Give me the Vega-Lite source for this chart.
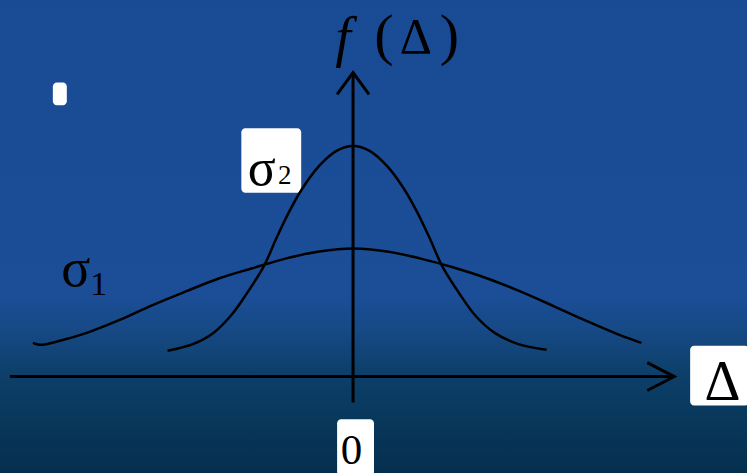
{
  "$schema": "https://vega.github.io/schema/vega-lite/v6.json",
  "width": 749,
  "height": 476,
  "autosize": {"type": "fit", "contains": "padding"},
  "padding": 0,
  "config": {"view": {"stroke": null}},
  "layer": [
    {
      "data": {"values": [{"x0": -3.54, "x1": 3.95, "y0": -0.97, "y1": 3.79}]},
      "mark": {
        "type": "rect",
        "fill": {
          "gradient": "linear", "x1": 0, "y1": 0, "x2": 0, "y2": 1,
          "stops": [
            {"offset": 0, "color": "#194b95"},
            {"offset": 0.62, "color": "#1b4e97"},
            {"offset": 0.7, "color": "#164984"},
            {"offset": 0.78, "color": "#0e406c"},
            {"offset": 0.88, "color": "#08385c"},
            {"offset": 1, "color": "#052f4e"}
          ]
        }
      },
      "encoding": {
        "x": {"field": "x0", "type": "quantitative", "scale": {"domain": [-3.54, 3.95], "nice": false, "zero": false}, "axis": null},
        "x2": {"field": "x1"},
        "y": {"field": "y0", "type": "quantitative", "scale": {"domain": [-0.97, 3.79], "nice": false, "zero": false}, "axis": null},
        "y2": {"field": "y1"}
      }
    },
    {
      "data": {"values": [
        {"box": "sigma2", "x0": -1.12, "x1": -0.52, "y0": 1.85, "y1": 2.5},
        {"box": "delta", "x0": 3.38, "x1": 3.97, "y0": -0.29, "y1": 0.31},
        {"box": "zero", "x0": -0.16, "x1": 0.21, "y0": -1.0, "y1": -0.43},
        {"box": "bullet", "x0": -3.01, "x1": -2.87, "y0": 2.73, "y1": 2.96}
      ]},
      "mark": {"type": "rect", "fill": "white", "cornerRadius": 4},
      "encoding": {
        "x": {"field": "x0", "type": "quantitative"},
        "x2": {"field": "x1"},
        "y": {"field": "y0", "type": "quantitative"},
        "y2": {"field": "y1"}
      }
    },
    {
      "data": {"values": [
        {"axis": "delta", "x0": -3.44, "x1": 3.2, "y0": 0, "y1": 0},
        {"axis": "f", "x0": 0, "x1": 0, "y0": -0.26, "y1": 3.04}
      ]},
      "mark": {"type": "rule", "color": "black", "strokeWidth": 3},
      "encoding": {
        "x": {"field": "x0", "type": "quantitative"},
        "x2": {"field": "x1"},
        "y": {"field": "y0", "type": "quantitative"},
        "y2": {"field": "y1"}
      }
    },
    {
      "data": {"values": [
        {"head": "up", "i": 0, "x": -0.16, "y": 2.84},
        {"head": "up", "i": 1, "x": 0, "y": 3.06},
        {"head": "up", "i": 2, "x": 0.16, "y": 2.84},
        {"head": "right", "i": 0, "x": 2.95, "y": 0.14},
        {"head": "right", "i": 1, "x": 3.22, "y": 0},
        {"head": "right", "i": 2, "x": 2.95, "y": -0.14}
      ]},
      "mark": {"type": "line", "color": "black", "strokeWidth": 3, "strokeJoin": "miter"},
      "encoding": {
        "x": {"field": "x", "type": "quantitative"},
        "y": {"field": "y", "type": "quantitative"},
        "detail": {"field": "head"},
        "order": {"field": "i", "type": "quantitative"}
      }
    },
    {
      "data": {"values": [
        {"curve": "sigma2", "x": -1.86, "y": 0.26},
        {"curve": "sigma2", "x": -1.6, "y": 0.33},
        {"curve": "sigma2", "x": -1.4, "y": 0.44},
        {"curve": "sigma2", "x": -1.22, "y": 0.62},
        {"curve": "sigma2", "x": -1.07, "y": 0.83},
        {"curve": "sigma2", "x": -0.89, "y": 1.12},
        {"curve": "sigma2", "x": -0.77, "y": 1.39},
        {"curve": "sigma2", "x": -0.64, "y": 1.66},
        {"curve": "sigma2", "x": -0.51, "y": 1.89},
        {"curve": "sigma2", "x": -0.34, "y": 2.12},
        {"curve": "sigma2", "x": -0.17, "y": 2.27},
        {"curve": "sigma2", "x": 0, "y": 2.32},
        {"curve": "sigma2", "x": 0.17, "y": 2.27},
        {"curve": "sigma2", "x": 0.34, "y": 2.12},
        {"curve": "sigma2", "x": 0.51, "y": 1.89},
        {"curve": "sigma2", "x": 0.64, "y": 1.66},
        {"curve": "sigma2", "x": 0.77, "y": 1.39},
        {"curve": "sigma2", "x": 0.89, "y": 1.12},
        {"curve": "sigma2", "x": 1.07, "y": 0.83},
        {"curve": "sigma2", "x": 1.23, "y": 0.61},
        {"curve": "sigma2", "x": 1.42, "y": 0.44},
        {"curve": "sigma2", "x": 1.65, "y": 0.33},
        {"curve": "sigma2", "x": 1.94, "y": 0.27},
        {"curve": "sigma1", "x": -3.21, "y": 0.34},
        {"curve": "sigma1", "x": -3.14, "y": 0.32},
        {"curve": "sigma1", "x": -2.94, "y": 0.36},
        {"curve": "sigma1", "x": -2.67, "y": 0.44},
        {"curve": "sigma1", "x": -2.34, "y": 0.57},
        {"curve": "sigma1", "x": -2.01, "y": 0.72},
        {"curve": "sigma1", "x": -1.67, "y": 0.86},
        {"curve": "sigma1", "x": -1.34, "y": 0.99},
        {"curve": "sigma1", "x": -1.01, "y": 1.09},
        {"curve": "sigma1", "x": -0.67, "y": 1.19},
        {"curve": "sigma1", "x": -0.34, "y": 1.26},
        {"curve": "sigma1", "x": 0, "y": 1.29},
        {"curve": "sigma1", "x": 0.34, "y": 1.26},
        {"curve": "sigma1", "x": 0.67, "y": 1.19},
        {"curve": "sigma1", "x": 1.0, "y": 1.1},
        {"curve": "sigma1", "x": 1.34, "y": 0.99},
        {"curve": "sigma1", "x": 1.67, "y": 0.86},
        {"curve": "sigma1", "x": 2.01, "y": 0.71},
        {"curve": "sigma1", "x": 2.34, "y": 0.56},
        {"curve": "sigma1", "x": 2.67, "y": 0.42},
        {"curve": "sigma1", "x": 2.89, "y": 0.34}
      ]},
      "mark": {"type": "line", "color": "black", "strokeWidth": 2.5, "interpolate": "catmull-rom"},
      "encoding": {
        "x": {"field": "x", "type": "quantitative"},
        "y": {"field": "y", "type": "quantitative"},
        "detail": {"field": "curve"}
      }
    },
    {
      "data": {"values": [
        {"t": "σ", "x": -0.915, "y": 1.93}
      ]},
      "mark": {"type": "text", "font": "Liberation Serif", "fontSize": 52, "align": "center", "baseline": "alphabetic", "color": "black"},
      "encoding": {"x": {"field": "x", "type": "quantitative"}, "y": {"field": "y", "type": "quantitative"}, "text": {"field": "t"}}
    },
    {
      "data": {"values": [
        {"t": "2", "x": -0.685, "y": 1.94}
      ]},
      "mark": {"type": "text", "font": "Liberation Serif", "fontSize": 27, "align": "center", "baseline": "alphabetic", "color": "black"},
      "encoding": {"x": {"field": "x", "type": "quantitative"}, "y": {"field": "y", "type": "quantitative"}, "text": {"field": "t"}}
    },
    {
      "data": {"values": [
        {"t": "σ", "x": -2.78, "y": 0.91}
      ]},
      "mark": {"type": "text", "font": "Liberation Serif", "fontSize": 54, "align": "center", "baseline": "alphabetic", "color": "black"},
      "encoding": {"x": {"field": "x", "type": "quantitative"}, "y": {"field": "y", "type": "quantitative"}, "text": {"field": "t"}}
    },
    {
      "data": {"values": [
        {"t": "1", "x": -2.55, "y": 0.82}
      ]},
      "mark": {"type": "text", "font": "Liberation Serif", "fontSize": 34, "align": "center", "baseline": "alphabetic", "color": "black"},
      "encoding": {"x": {"field": "x", "type": "quantitative"}, "y": {"field": "y", "type": "quantitative"}, "text": {"field": "t"}}
    },
    {
      "data": {"values": [
        {"t": "f", "x": -0.1, "y": 3.23}
      ]},
      "mark": {"type": "text", "font": "Liberation Serif", "fontStyle": "italic", "fontSize": 56, "align": "center", "baseline": "alphabetic", "color": "black"},
      "encoding": {"x": {"field": "x", "type": "quantitative"}, "y": {"field": "y", "type": "quantitative"}, "text": {"field": "t"}}
    },
    {
      "data": {"values": [
        {"t": "(", "x": 0.31, "y": 3.25},
        {"t": ")", "x": 0.965, "y": 3.25}
      ]},
      "mark": {"type": "text", "font": "Liberation Serif", "fontSize": 58, "align": "center", "baseline": "alphabetic", "color": "black"},
      "encoding": {"x": {"field": "x", "type": "quantitative"}, "y": {"field": "y", "type": "quantitative"}, "text": {"field": "t"}}
    },
    {
      "data": {"values": [
        {"t": "Δ", "x": 0.63, "y": 3.26}
      ]},
      "mark": {"type": "text", "font": "Liberation Serif", "fontSize": 50, "align": "center", "baseline": "alphabetic", "color": "black"},
      "encoding": {"x": {"field": "x", "type": "quantitative"}, "y": {"field": "y", "type": "quantitative"}, "text": {"field": "t"}}
    },
    {
      "data": {"values": [
        {"t": "Δ", "x": 3.705, "y": -0.24}
      ]},
      "mark": {"type": "text", "font": "Liberation Serif", "fontSize": 56, "align": "center", "baseline": "alphabetic", "color": "black"},
      "encoding": {"x": {"field": "x", "type": "quantitative"}, "y": {"field": "y", "type": "quantitative"}, "text": {"field": "t"}}
    },
    {
      "data": {"values": [
        {"t": "0", "x": -0.015, "y": -0.88}
      ]},
      "mark": {"type": "text", "font": "Liberation Serif", "fontSize": 43, "align": "center", "baseline": "alphabetic", "color": "black"},
      "encoding": {"x": {"field": "x", "type": "quantitative"}, "y": {"field": "y", "type": "quantitative"}, "text": {"field": "t"}}
    }
  ]
}
